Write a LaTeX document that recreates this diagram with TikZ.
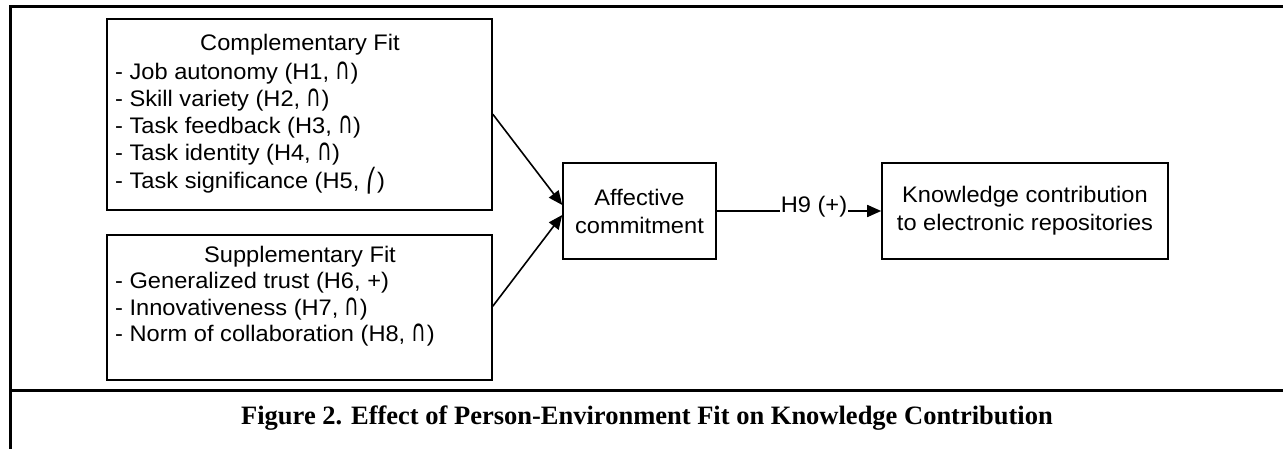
\documentclass[tikz,border=0pt]{standalone}
\usepackage{fontspec}
\usepackage{graphicx}
\setmainfont{Liberation Sans}[FakeStretch=1.05]
\newfontfamily\capfont{Liberation Serif}
\newfontfamily\symfont{DejaVu Sans}
\usetikzlibrary{arrows.meta}
\newcommand{\hk}{{\symfont\char"239B}}
\newcommand{\cp}{\scalebox{0.9}[1.35]{\symfont\char"2229}}
\begin{document}
\begin{tikzpicture}[x=1pt,y=-1pt,
  body/.style={font=\fontsize{22.5}{27}\selectfont, inner sep=0pt},
  boxed/.style={draw, line width=1.6pt, rectangle, inner sep=0pt},
  frameline/.style={line width=3pt},
  arr/.style={line width=1.6pt, -{Triangle[length=14pt,width=12pt]}},
  plain/.style={line width=1.6pt}]
\useasboundingbox (0,0) rectangle (1283,449);
% frame
\draw[frameline] (1283,7) -- (10,7) -- (10,449);
\draw[frameline] (10,390) -- (1283,390);
% box 1
\node[boxed, minimum width=385pt, minimum height=191pt] (b1) at (299.5,114.5) {};
\node[body, anchor=base] (b1t) at (300,51) {Complementary Fit};
\node[body, anchor=base west] (c1) at (115,80) {- Job autonomy (H1, \cp)};
\node[body, anchor=base west] (c2) at (115,107) {- Skill variety (H2, \cp)};
\node[body, anchor=base west] (c3) at (115,134) {- Task feedback (H3, \cp)};
\node[body, anchor=base west] (c4) at (115,161) {- Task identity (H4, \cp)};
\node[body, anchor=base west] (c5) at (115,189) {- Task significance (H5, \hk)};
% box 2
\node[boxed, minimum width=385pt, minimum height=145pt] (b2) at (299.5,307.5) {};
\node[body, anchor=base] (b2t) at (300,263) {Supplementary Fit};
\node[body, anchor=base west] (s1) at (115,289) {- Generalized trust (H6, +)};
\node[body, anchor=base west] (s2) at (115,315) {- Innovativeness (H7, \cp)};
\node[body, anchor=base west] (s3) at (115,341) {- Norm of collaboration (H8, \cp)};
% affective
\node[boxed, align=center, font=\fontsize{22.5}{28}\selectfont, minimum width=153pt, minimum height=96pt] (ac) at (639.5,211) {Affective\\commitment};
% knowledge
\node[boxed, align=center, font=\fontsize{22.5}{28}\selectfont, minimum width=286pt, minimum height=96pt] (kn) at (1025,211) {Knowledge contribution\\to electronic repositories};
% H9 label
\node[body, inner sep=1pt, anchor=base] (h9) at (814,213) {H9 (+)};
% connectors
\draw[arr] ([yshift=-96pt]b1.north east) -- ([yshift=6pt]ac.west);
\draw[arr] ([yshift=-72pt]b2.north east) -- ([yshift=-4pt]ac.west);
\draw[plain] (ac.east) -- (ac.east -| h9.west);
\draw[arr] (h9.east |- kn.west) -- (kn.west);
% caption
\node[font=\capfont\bfseries\fontsize{26.5}{30}\selectfont, inner sep=0pt] (cap) at (647,418) {Figure 2. Effect of Person-Environment Fit on Knowledge Contribution};
\end{tikzpicture}
\end{document}
